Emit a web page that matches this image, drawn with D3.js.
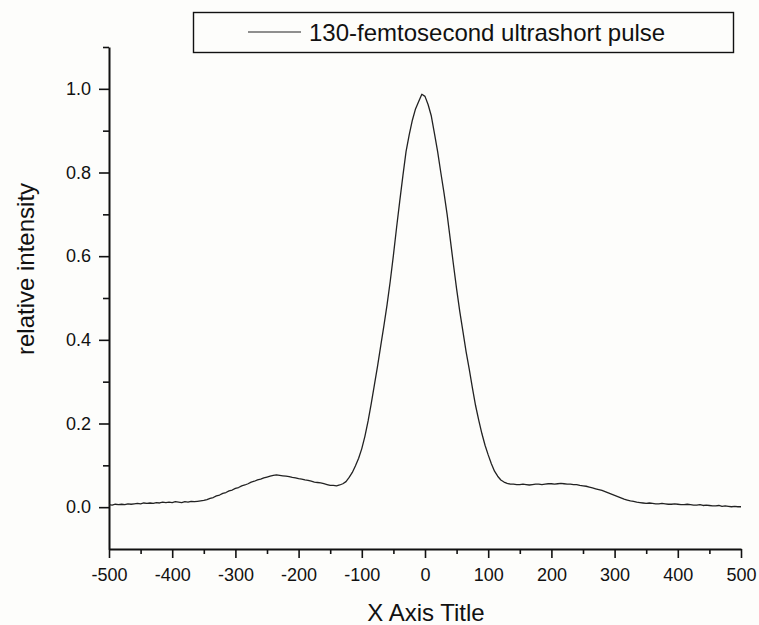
<!DOCTYPE html>
<html>
<head>
<meta charset="utf-8">
<script src="https://cdn.jsdelivr.net/npm/d3@7"></script>
<style>
  html, body { margin: 0; padding: 0; background: #fdfdfb; }
  svg { display: block; }
  text { font-family: "Liberation Sans", Arial, sans-serif; fill: #111; }
</style>
</head>
<body>
<svg id="chart" width="759" height="625"></svg>
<script>
// ---- data ----
const seriesName = "130-femtosecond ultrashort pulse";
const delay = [
  -500,-495,-490,-485,-480,-475,-470,-465,-460,-455,
  -450,-445,-440,-435,-430,-425,-420,-415,-410,-405,
  -400,-395,-390,-385,-380,-375,-370,-365,-360,-355,
  -350,-345,-340,-335,-330,-325,-320,-315,-310,-305,
  -300,-295,-290,-285,-280,-275,-270,-265,-260,-255,
  -250,-245,-240,-235,-230,-225,-220,-215,-210,-205,
  -200,-195,-190,-185,-180,-175,-170,-165,-160,-155,
  -150,-145,-140,-135,-130,-125,-120,-115,-110,-105,
  -100,-95,-90,-85,-80,-75,-70,-65,-60,-55,
  -50,-45,-40,-35,-30,-25,-20,-15,-10,-5,
  0,5,10,15,20,25,30,35,40,45,
  50,55,60,65,70,75,80,85,90,95,
  100,105,110,115,120,125,130,135,140,145,
  150,155,160,165,170,175,180,185,190,195,
  200,205,210,215,220,225,230,235,240,245,
  250,255,260,265,270,275,280,285,290,295,
  300,305,310,315,320,325,330,335,340,345,
  350,355,360,365,370,375,380,385,390,395,
  400,405,410,415,420,425,430,435,440,445,
  450,455,460,465,470,475,480,485,490,495,
  500
];
const intensity = [
  0.006,0.005,0.007,0.006,0.007,0.006,0.008,0.007,0.008,0.009,
  0.008,0.010,0.009,0.010,0.009,0.011,0.010,0.012,0.011,0.012,
  0.011,0.013,0.012,0.011,0.013,0.012,0.014,0.013,0.014,0.015,
  0.016,0.018,0.021,0.023,0.027,0.029,0.033,0.035,0.039,0.041,
  0.045,0.047,0.051,0.053,0.056,0.060,0.062,0.065,0.067,0.070,
  0.072,0.074,0.076,0.077,0.076,0.075,0.074,0.073,0.071,0.070,
  0.068,0.067,0.065,0.064,0.062,0.060,0.059,0.058,0.056,0.054,
  0.052,0.052,0.051,0.053,0.056,0.061,0.071,0.083,0.099,0.117,
  0.140,0.170,0.206,0.248,0.293,0.338,0.386,0.434,0.484,0.540,
  0.602,0.668,0.731,0.792,0.850,0.890,0.925,0.952,0.970,0.987,
  0.982,0.962,0.935,0.893,0.850,0.800,0.752,0.700,0.640,0.580,
  0.522,0.468,0.420,0.372,0.330,0.285,0.243,0.208,0.176,0.148,
  0.125,0.104,0.086,0.074,0.065,0.060,0.057,0.055,0.055,0.054,
  0.054,0.055,0.054,0.053,0.054,0.055,0.055,0.054,0.055,0.056,
  0.056,0.055,0.056,0.057,0.056,0.055,0.055,0.054,0.054,0.052,
  0.051,0.050,0.048,0.046,0.044,0.042,0.040,0.037,0.034,0.031,
  0.028,0.025,0.022,0.019,0.017,0.015,0.014,0.012,0.011,0.010,
  0.009,0.010,0.009,0.008,0.008,0.009,0.008,0.007,0.007,0.008,
  0.007,0.006,0.006,0.007,0.006,0.005,0.005,0.006,0.004,0.005,
  0.004,0.003,0.003,0.004,0.002,0.003,0.002,0.001,0.002,0.001,
  0.001
];
const xTicks = [-500,-400,-300,-200,-100,0,100,200,300,400,500];
const xMinorTicks = [-450,-350,-250,-150,-50,50,150,250,350,450];
const yTicks = [0.0,0.2,0.4,0.6,0.8,1.0];
const yMinorTicks = [0.1,0.3,0.5,0.7,0.9,1.1];
const xTitle = "X Axis Title";
const yTitle = "relative intensity";

// ---- drawing ----
const svg = d3.select("#chart");
const x = d3.scaleLinear().domain([-500, 500]).range([109, 741]);
const y = d3.scaleLinear().domain([-0.1, 1.1]).range([549, 47]);
const ink = "#111";
const font = "Liberation Sans, Arial, sans-serif";

// x axis
const gx = svg.append("g").attr("transform", `translate(0,${y(-0.1)})`);
gx.call(d3.axisBottom(x).tickValues(xTicks).tickSize(9).tickSizeOuter(0)
  .tickFormat(d => d < 0 ? "-" + Math.abs(d) : String(d)));
gx.selectAll(".tick text").attr("font-size", 18).attr("y", 19).attr("dy", "0.71em")
  .attr("font-family", font).attr("fill", ink);
gx.append("g").call(d3.axisBottom(x).tickValues(xMinorTicks).tickSize(5).tickSizeOuter(0).tickFormat(""))
  .select(".domain").remove();
gx.selectAll(".domain").attr("stroke", ink).attr("stroke-width", 2);
gx.selectAll(".tick line").attr("stroke", ink).attr("stroke-width", 1.6);

// y axis
const gy = svg.append("g").attr("transform", `translate(${x(-500)},0)`);
gy.call(d3.axisLeft(y).tickValues(yTicks).tickSize(10).tickSizeOuter(0)
  .tickFormat(d3.format(".1f")));
gy.selectAll(".tick text").attr("font-size", 18).attr("x", -18)
  .attr("font-family", font).attr("fill", ink);
gy.append("g").call(d3.axisLeft(y).tickValues(yMinorTicks).tickSize(6).tickSizeOuter(0).tickFormat(""))
  .select(".domain").remove();
gy.selectAll(".domain").attr("stroke", ink).attr("stroke-width", 2);
gy.selectAll(".tick line").attr("stroke", ink).attr("stroke-width", 1.6);

// line
const pts = delay.map((d, i) => [d, intensity[i]]);
svg.append("path").datum(pts)
  .attr("fill", "none").attr("stroke", "#222").attr("stroke-width", 1.3)
  .attr("stroke-linejoin", "round")
  .attr("d", d3.line().x(d => x(d[0])).y(d => y(d[1])));

// titles
svg.append("text").attr("x", 426).attr("y", 621).attr("text-anchor", "middle")
  .attr("font-size", 24).attr("font-family", font).text(xTitle);
svg.append("text").attr("transform", `translate(34,${269}) rotate(-90)`)
  .attr("text-anchor", "middle").attr("font-size", 24).attr("font-family", font).text(yTitle);

// legend
const lg = svg.append("g");
lg.append("rect").attr("x", 193.5).attr("y", 12.5).attr("width", 540).attr("height", 40)
  .attr("fill", "none").attr("stroke", ink).attr("stroke-width", 1.4);
lg.append("line").attr("x1", 248).attr("x2", 301).attr("y1", 32).attr("y2", 32)
  .attr("stroke", "#222").attr("stroke-width", 1.2);
lg.append("text").attr("x", 309).attr("y", 41).attr("font-size", 24)
  .attr("font-family", font).text(seriesName);
</script>
</body>
</html>
